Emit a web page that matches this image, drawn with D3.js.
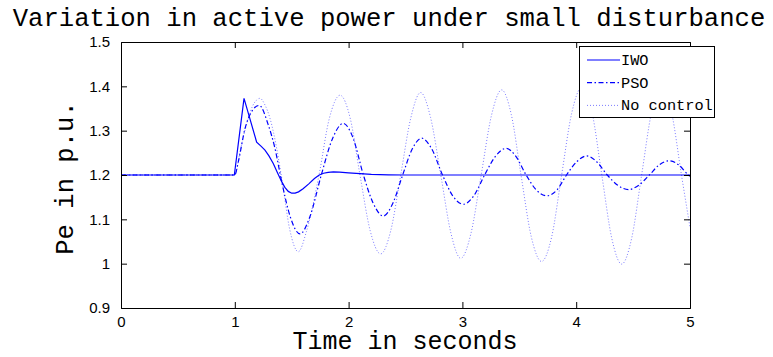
<!DOCTYPE html>
<html>
<head>
<meta charset="utf-8">
<script src="https://cdn.jsdelivr.net/npm/d3@7"></script>
<style>
  html, body { margin: 0; padding: 0; background: #fff; }
  svg { display: block; }
</style>
</head>
<body>
<svg id="chart" width="773" height="357"></svg>
<script>
// ---- data ----
const title = "Variation in active power under small disturbance";
const xLabel = "Time in seconds";
const yLabel = "Pe in p.u.";
const xTicks = [0, 1, 2, 3, 4, 5];
const yTicks = [0.9, 1, 1.1, 1.2, 1.3, 1.4, 1.5];
const seriesNames = ["IWO", "PSO", "No control"];

const iwo = [
  [0, 1.2], [0.996, 1.2], [1.081, 1.373], [1.192, 1.274], [1.23, 1.265],
  [1.265, 1.256], [1.30, 1.243], [1.338, 1.226], [1.375, 1.205], [1.412, 1.185],
  [1.44, 1.172], [1.47, 1.163], [1.50, 1.159], [1.53, 1.159], [1.56, 1.162],
  [1.60, 1.169], [1.65, 1.180], [1.70, 1.192], [1.742, 1.2], [1.78, 1.204],
  [1.82, 1.206], [1.866, 1.207], [1.92, 1.2065], [2.0, 1.205], [2.1, 1.203],
  [2.2, 1.2015], [2.35, 1.2005], [2.5, 1.2], [5, 1.2]
];

const pso = [
  [0, 1.2], [1.0, 1.2], [1.031, 1.23], [1.09, 1.305], [1.148, 1.343],
  [1.215, 1.357], [1.294, 1.313], [1.353, 1.26], [1.412, 1.185], [1.487, 1.106],
  [1.573, 1.067], [1.66, 1.106], [1.76, 1.2], [1.86, 1.283], [1.953, 1.3165],
  [2.04, 1.283], [2.13, 1.2], [2.215, 1.137], [2.305, 1.1075], [2.39, 1.137],
  [2.475, 1.2], [2.56, 1.259], [2.642, 1.283], [2.73, 1.259], [2.825, 1.2],
  [2.915, 1.153], [3.008, 1.134], [3.10, 1.153], [3.195, 1.2], [3.29, 1.242],
  [3.383, 1.26], [3.47, 1.242], [3.56, 1.2], [3.65, 1.166], [3.74, 1.153],
  [3.83, 1.166], [3.915, 1.2], [4.005, 1.230], [4.092, 1.243], [4.18, 1.230],
  [4.273, 1.2], [4.365, 1.177], [4.458, 1.167], [4.55, 1.177], [4.643, 1.2],
  [4.73, 1.223], [4.815, 1.232], [4.90, 1.223], [4.985, 1.2], [5.0, 1.197]
];

const noControl = [
  [0, 1.2], [1.0, 1.2], [1.046, 1.2525], [1.083, 1.295], [1.119, 1.328],
  [1.155, 1.355], [1.192, 1.369], [1.221, 1.373], [1.265, 1.358], [1.309, 1.328],
  [1.340, 1.296], [1.368, 1.26], [1.417, 1.185], [1.482, 1.078], [1.558, 1.027],
  [1.63, 1.073], [1.74, 1.2], [1.83, 1.327], [1.925, 1.380], [2.015, 1.327],
  [2.10, 1.2], [2.19, 1.074], [2.282, 1.022], [2.37, 1.074], [2.458, 1.2],
  [2.545, 1.327], [2.633, 1.386], [2.72, 1.33], [2.81, 1.2], [2.90, 1.068],
  [2.985, 1.012], [3.075, 1.068], [3.165, 1.2], [3.255, 1.334], [3.345, 1.392],
  [3.43, 1.336], [3.515, 1.2], [3.605, 1.061], [3.695, 1.005], [3.785, 1.061],
  [3.872, 1.2], [3.96, 1.339], [4.05, 1.398], [4.14, 1.34], [4.225, 1.2],
  [4.312, 1.058], [4.40, 0.999], [4.488, 1.058], [4.575, 1.2], [4.662, 1.341],
  [4.75, 1.399], [4.838, 1.341], [4.925, 1.2], [5.0, 1.082]
];

// ---- layout ----
const svg = d3.select("#chart");
const mLeft = 121, mRight = 690, mTop = 42, mBottom = 308;
const x = d3.scaleLinear().domain([0, 5]).range([mLeft, mRight]);
const y = d3.scaleLinear().domain([0.9, 1.5]).range([mBottom, mTop]);

const mono = "'Liberation Mono', 'Courier New', monospace";
const sans = "'Liberation Sans', Arial, Helvetica, sans-serif";

// lines
const lineLin = d3.line().x(d => x(d[0])).y(d => y(d[1])).curve(d3.curveLinear);
const lineSmooth = d3.line().x(d => x(d[0])).y(d => y(d[1])).curve(d3.curveMonotoneX);

const plot = svg.append("g");
plot.append("path").datum(noControl).attr("d", lineSmooth)
  .attr("fill", "none").attr("stroke", "#7b7bff").attr("stroke-width", 1)
  .attr("stroke-dasharray", "1,2");
plot.append("path").datum(pso).attr("d", lineSmooth)
  .attr("fill", "none").attr("stroke", "#0000ff").attr("stroke-width", 1.2)
  .attr("stroke-dasharray", "5,2.5,1.5,2.5");
plot.append("path").datum(iwo).attr("d", lineLin)
  .attr("fill", "none").attr("stroke", "#0000ff").attr("stroke-width", 1.2);

// axes (ticks inside, all four sides)
const tickLen = 6;
const axB = svg.append("g").attr("transform", `translate(0,${mBottom})`)
  .call(d3.axisBottom(x).tickValues(xTicks).tickSize(-tickLen).tickPadding(6).tickFormat(d3.format("d")));
const axT = svg.append("g").attr("transform", `translate(0,${mTop})`)
  .call(d3.axisTop(x).tickValues(xTicks).tickSize(-tickLen).tickFormat(""));
const axL = svg.append("g").attr("transform", `translate(${mLeft},0)`)
  .call(d3.axisLeft(y).tickValues(yTicks).tickSize(-tickLen).tickPadding(11).tickFormat(d => String(+d.toFixed(1))));
const axR = svg.append("g").attr("transform", `translate(${mRight},0)`)
  .call(d3.axisRight(y).tickValues(yTicks).tickSize(-tickLen).tickFormat(""));

[axB, axT, axL, axR].forEach(a => {
  a.selectAll(".domain").attr("stroke", "#000").attr("stroke-width", 1);
  a.selectAll(".tick line").attr("stroke", "#000").attr("stroke-width", 1);
  a.selectAll("text").attr("fill", "#000").style("font-family", sans).style("font-size", "15px");
});
axB.selectAll(".tick line").filter(d => d === 0 || d === 5).remove();
axT.selectAll(".tick line").filter(d => d === 0 || d === 5).remove();
axL.selectAll(".tick line").filter(d => d === 0.9 || d === 1.5).remove();
axR.selectAll(".tick line").filter(d => d === 0.9 || d === 1.5).remove();
axB.selectAll("text").attr("dy", "0.71em").attr("y", 8);

// title & labels
svg.append("text").attr("x", 389).attr("y", 26).attr("text-anchor", "middle")
  .style("font-family", mono).style("font-size", "25.6px").attr("fill", "#000").text(title);
svg.append("text").attr("x", 405).attr("y", 349).attr("text-anchor", "middle")
  .style("font-family", mono).style("font-size", "25px").attr("fill", "#000").text(xLabel);
svg.append("text").attr("transform", "translate(73,178) rotate(-90)").attr("text-anchor", "middle")
  .style("font-family", mono).style("font-size", "25.6px").attr("fill", "#000").text(yLabel);

// legend
const lg = svg.append("g");
lg.append("rect").attr("x", 579.5).attr("y", 46.5).attr("width", 135).attr("height", 71)
  .attr("fill", "#fff").attr("stroke", "#000").attr("stroke-width", 1);
const styles = [
  { color: "#0000ff", dash: null, w: 1.2 },
  { color: "#0000ff", dash: "5,2.5,1.5,2.5", w: 1.2 },
  { color: "#7b7bff", dash: "1,2", w: 1 }
];
seriesNames.forEach((name, i) => {
  const yy = 60 + i * 22.7;
  lg.append("line").attr("x1", 587).attr("x2", 620).attr("y1", yy).attr("y2", yy)
    .attr("stroke", styles[i].color).attr("stroke-width", styles[i].w)
    .attr("stroke-dasharray", styles[i].dash);
  lg.append("text").attr("x", 621).attr("y", yy + 5)
    .style("font-family", mono).style("font-size", "15.3px").attr("fill", "#000").text(name);
});
</script>
</body>
</html>
